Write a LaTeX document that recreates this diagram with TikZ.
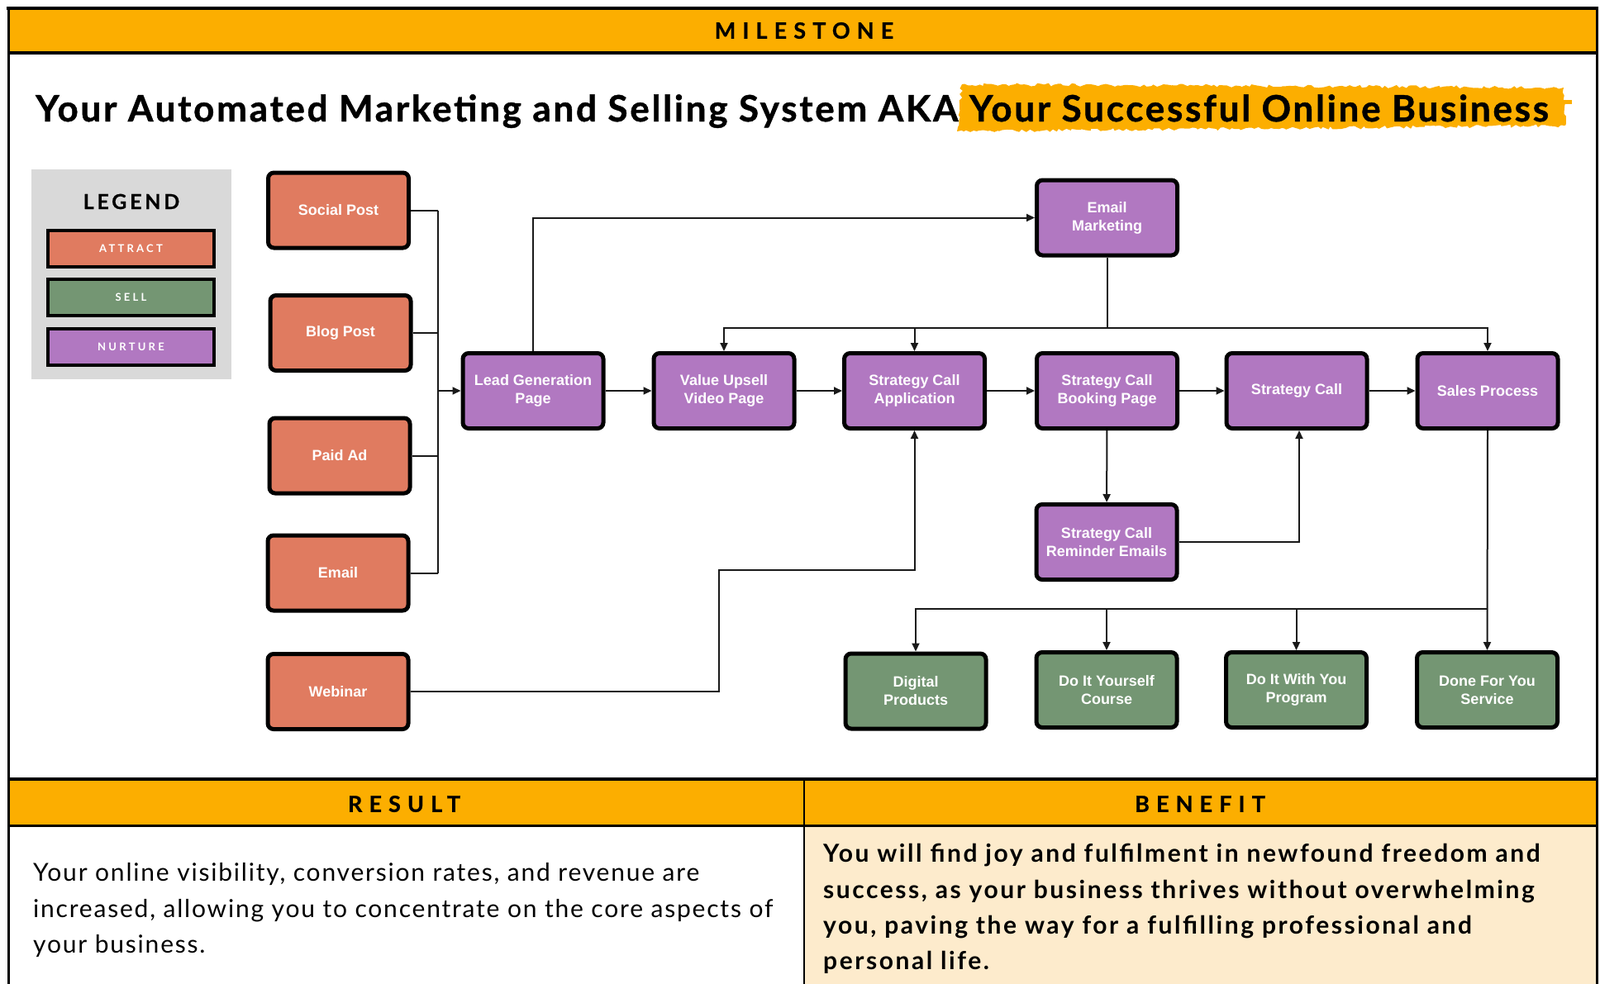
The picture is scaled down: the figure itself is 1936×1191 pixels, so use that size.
\documentclass[tikz,border=0pt]{standalone}
\usepackage{fontspec}
\setmainfont{Lato}
\newfontfamily\boxfont{Liberation Sans}
\usetikzlibrary{arrows.meta,decorations.pathmorphing}
\definecolor{hdr}{RGB}{252,174,0}
\definecolor{attr}{RGB}{224,123,96}
\definecolor{sellc}{RGB}{116,150,115}
\definecolor{nurt}{RGB}{177,120,193}
\definecolor{cream}{RGB}{253,235,204}
\definecolor{leggray}{RGB}{217,217,217}
\tikzset{
  box/.style={draw=black, line width=5pt, rounded corners=7pt, minimum width=170pt, minimum height=91pt,
    text=white, font=\boxfont\bfseries\fontsize{18}{22}\selectfont, align=center, inner sep=2pt},
  attractbox/.style={box, fill=attr},
  sellbox/.style={box, fill=sellc},
  nurturebox/.style={box, fill=nurt},
  legbox/.style={draw=black, line width=4pt, minimum width=201pt, minimum height=44pt, text=white,
    font=\bfseries\fontsize{13}{15}\selectfont\addfontfeatures{LetterSpace=25}},
  hdrtext/.style={font=\bfseries\fontsize{27}{30}\selectfont\addfontfeatures{LetterSpace=30,FakeBold=0.6}, inner sep=0pt},
  conn/.style={draw=black!90, line width=2pt},
  arr/.style={conn, -{Triangle[length=10pt,width=9pt]}},
  para/.style={anchor=base west, inner sep=0pt, font=\fontsize{30}{43}\selectfont\addfontfeatures{LetterSpace=6}},
  parab/.style={anchor=base west, inner sep=0pt, font=\bfseries\fontsize{30}{43}\selectfont\addfontfeatures{LetterSpace=8.5}},
}
\begin{document}
\begin{tikzpicture}[x=1pt,y=-1pt]
\useasboundingbox (0,0) rectangle (1936,1191);
\fill[white] (0,0) rectangle (1936,1191);
% header bars
\fill[hdr] (10,10) rectangle (1932,64);
\fill[hdr] (10,943) rectangle (1932,999);
\fill[cream] (973,999) rectangle (1932,1191);
\draw[line width=4pt] (8,10) -- (1934,10);
\draw[line width=4pt] (10,64) -- (1932,64);
\draw[line width=4pt] (10,943) -- (1932,943);
\draw[line width=3pt] (10,999) -- (1932,999);
\draw[line width=3pt] (10,8) -- (10,1191);
\draw[line width=3pt] (1932,8) -- (1932,1191);
\draw[line width=2pt] (973,943) -- (973,1191);
\node[hdrtext] (milestone) at (973,37) {MILESTONE};
\node[hdrtext] (result) at (489,973) {RESULT};
\node[hdrtext] (benefit) at (1452,973) {BENEFIT};
% title
\fill[hdr, decorate, decoration={random steps, segment length=4pt, amplitude=2pt}]
  (1164,102) -- (1892,106) -- (1894,152) -- (1158,159) -- cycle;
\fill[hdr] (1885,121) rectangle (1902,126);
\node[anchor=base west, inner sep=0pt, font=\bfseries\fontsize{44}{50}\selectfont\addfontfeatures{LetterSpace=6.2,FakeBold=1}] (title) at (43,147)
  {Your Automated Marketing and Selling System AKA Your Successful Online Business};
% legend
\fill[leggray] (38,205) rectangle (280,459);
\node[font=\bfseries\fontsize{25}{28}\selectfont\addfontfeatures{LetterSpace=15,FakeBold=0.6}, inner sep=0pt] (legend) at (159,244) {LEGEND};
\node[legbox, fill=attr] (lattract) at (158.5,301) {ATTRACT};
\node[legbox, fill=sellc] (lsell) at (158.5,359.5) {SELL};
\node[legbox, fill=nurt] (lnurture) at (158.5,419.5) {NURTURE};
% attract column
\node[attractbox] (social) at (409.5,254.5) {Social Post};
\node[attractbox] (blog) at (412,403) {Blog Post};
\node[attractbox] (paid) at (411,551.5) {Paid Ad};
\node[attractbox] (email) at (409,693.5) {Email};
\node[attractbox] (webinar) at (409,837) {Webinar};
% nurture
\node[nurturebox] (leadgen) at (645,473) {Lead Generation\\Page};
\node[nurturebox] (upsell) at (876,473) {Value Upsell\\Video Page};
\node[nurturebox] (app) at (1106.5,473) {Strategy Call\\Application};
\node[nurturebox] (booking) at (1339.5,473) {Strategy Call\\Booking Page};
\node[nurturebox] (call) at (1569,473) {Strategy Call};
\node[nurturebox] (sales) at (1800,473) {Sales Process};
\node[nurturebox] (emailmkt) at (1339.5,263.5) {Email\\Marketing};
\node[nurturebox] (reminder) at (1339,656) {Strategy Call\\Reminder Emails};
% sell
\node[sellbox] (digital) at (1108,836.5) {Digital\\Products};
\node[sellbox] (diy) at (1339,835) {Do It Yourself\\Course};
\node[sellbox] (dwy) at (1568.5,835) {Do It With You\\Program};
\node[sellbox] (dfy) at (1799.5,835) {Done For You\\Service};
% connectors
\coordinate (busx) at (530,0);
\coordinate (fb) at (0,397);
\coordinate (py) at (0,737);
\coordinate (wx) at (870,690);
\draw[conn] (social.east) -- (social.east -| busx);
\draw[conn] (blog.east) -- (blog.east -| busx);
\draw[conn] (paid.east) -- (paid.east -| busx);
\draw[conn] (email.east) -- (email.east -| busx);
\draw[conn] (social.east -| busx) -- (email.east -| busx);
\draw[arr] (leadgen.west -| busx) -- (leadgen.west);
\draw[arr] (leadgen.north) |- (emailmkt.west);
\draw[arr] (emailmkt.south) -- (emailmkt.south |- fb) -| (sales.north);
\draw[arr] (emailmkt.south |- fb) -| (upsell.north);
\draw[arr] (app.north |- fb) -- (app.north);
\draw[arr] (leadgen) -- (upsell);
\draw[arr] (upsell) -- (app);
\draw[arr] (app) -- (booking);
\draw[arr] (booking) -- (call);
\draw[arr] (call) -- (sales);
\draw[arr] (booking) -- (reminder);
\draw[arr] (reminder.east) -| ([xshift=3pt]call.south);
\draw[arr] (webinar.east) -| (wx) -| (app.south);
\draw[arr] (sales.south) -- (dfy.north);
\draw[arr] (sales.south |- py) -| (digital.north);
\draw[arr] (diy.north |- py) -- (diy.north);
\draw[arr] (dwy.north |- py) -- (dwy.north);
% bottom text
\node[para] (r1) at (40,1066) {Your online visibility, conversion rates, and revenue are};
\node[para] (r2) at (40,1110) {increased, allowing you to concentrate on the core aspects of};
\node[para] (r3) at (40,1153) {your business.};
\node[parab] (b1) at (996,1043) {You will find joy and fulfilment in newfound freedom and};
\node[parab] (b2) at (996,1087) {success, as your business thrives without overwhelming};
\node[parab] (b3) at (996,1130) {you, paving the way for a fulfilling professional and};
\node[parab] (b4) at (996,1173) {personal life.};
\end{tikzpicture}
\end{document}
